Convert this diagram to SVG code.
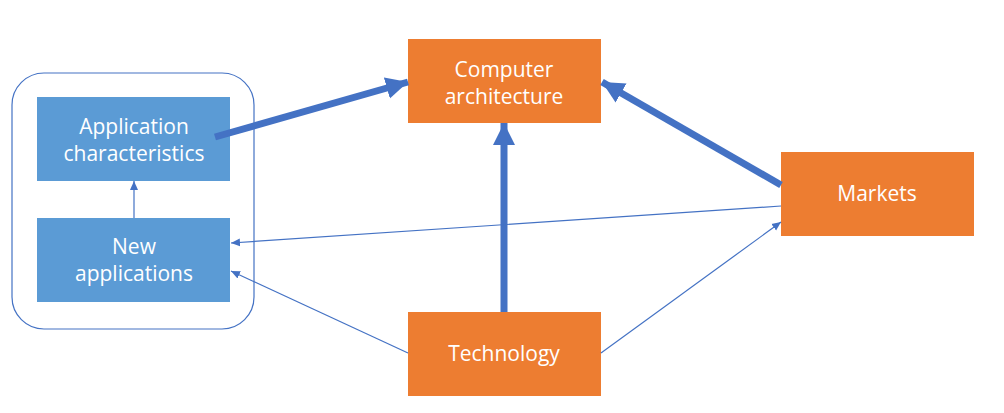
<svg xmlns="http://www.w3.org/2000/svg" width="1004" height="413" viewBox="0 0 1004 413">
<style>
.blue{fill:#5B9BD5}
.orange{fill:#ED7D31}
.t{fill:#fff;font-family:"Open Sans","Noto Sans","Liberation Sans",sans-serif;font-size:21px;text-anchor:middle}
.thick{stroke:#4472C4;stroke-width:7;fill:none}
.thin{stroke:#4472C4;stroke-width:1.2;fill:none}
</style>
<defs>
<marker id="big" markerUnits="userSpaceOnUse" markerWidth="24" markerHeight="24" refX="22" refY="12" orient="auto">
<path d="M0,1 L22,12 L0,23 Z" fill="#4472C4"/>
</marker>
<marker id="small" markerUnits="userSpaceOnUse" markerWidth="10" markerHeight="10" refX="9" refY="4.5" orient="auto">
<path d="M0,0.5 L9,4.5 L0,8.5 Z" fill="#4472C4"/>
</marker>
</defs>
<rect id="container" x="12" y="73" width="242" height="256" rx="32" ry="32" fill="none" stroke="#4472C4" stroke-width="1.2"/>
<g id="app-characteristics">
<rect class="blue" x="37" y="97" width="193" height="84"/>
<text class="t" x="134" y="134">Application</text>
<text class="t" x="134" y="161">characteristics</text>
</g>
<g id="new-applications">
<rect class="blue" x="37" y="218" width="193" height="84"/>
<text class="t" x="134" y="254">New</text>
<text class="t" x="134" y="281">applications</text>
</g>
<g id="computer-architecture">
<rect class="orange" x="408" y="39" width="193" height="84"/>
<text class="t" x="504" y="77">Computer</text>
<text class="t" x="504" y="104">architecture</text>
</g>
<g id="markets">
<rect class="orange" x="781" y="152" width="193" height="84"/>
<text class="t" x="877" y="201">Markets</text>
</g>
<g id="technology">
<rect class="orange" x="408" y="312" width="193" height="84"/>
<text class="t" x="504" y="361">Technology</text>
</g>
<g id="connectors">
<line class="thick" x1="215" y1="137" x2="408" y2="82" marker-end="url(#big)"/>
<line class="thick" x1="504" y1="312" x2="504" y2="123" marker-end="url(#big)"/>
<line class="thick" x1="781" y1="185" x2="602" y2="82" marker-end="url(#big)"/>
<line class="thin" x1="134" y1="218" x2="134" y2="181" marker-end="url(#small)"/>
<line class="thin" x1="781" y1="206" x2="231" y2="243" marker-end="url(#small)"/>
<line class="thin" x1="408" y1="353" x2="231" y2="271" marker-end="url(#small)"/>
<line class="thin" x1="601" y1="353" x2="781" y2="222" marker-end="url(#small)"/>
</g>
</svg>
